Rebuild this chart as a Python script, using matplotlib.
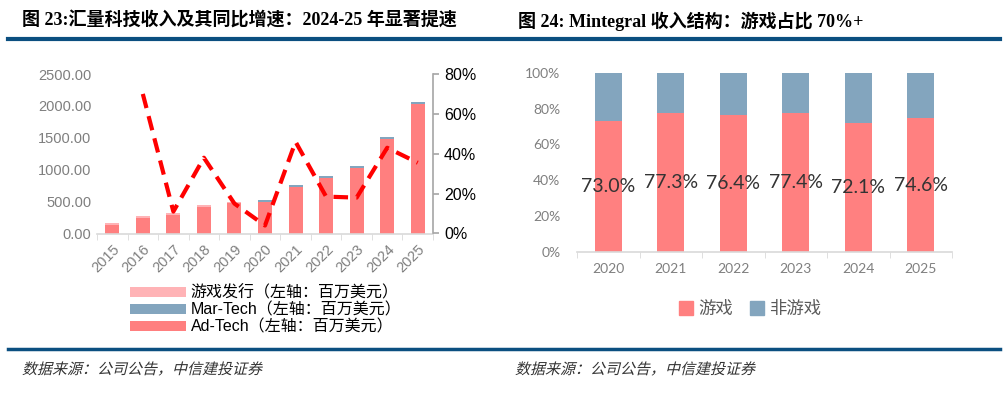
import matplotlib
matplotlib.use("Agg")
import matplotlib.pyplot as plt
from matplotlib.patches import Patch, PathPatch
from matplotlib.lines import Line2D
from matplotlib.textpath import TextPath
from matplotlib.font_manager import FontProperties
from matplotlib.transforms import Affine2D, IdentityTransform
import numpy as np

plt.rcParams['font.family'] = ['Liberation Sans', 'Noto Sans CJK SC']

# left chart data (百万美元 / 同比)
years = ['2015', '2016', '2017', '2018', '2019', '2020', '2021', '2022', '2023', '2024', '2025']
ad_tech = [130, 250, 292, 418, 480, 492, 727, 868, 1025, 1480, 2024]
mar_tech = [0, 0, 0, 0, 0, 30, 31, 32, 31, 37, 31]
game_pub = [30, 32, 22, 21, 12, 0, 0, 0, 0, 0, 0]
yoy = [None, 0.70, 0.11, 0.38, 0.15, 0.04, 0.46, 0.185, 0.18, 0.43, 0.355]

# right chart data
years_r = ['2020', '2021', '2022', '2023', '2024', '2025']
game_share = [73.0, 77.3, 76.4, 77.4, 72.1, 74.6]

c_ad = '#FF7F7F'
c_mar = '#83A5BE'
c_game = '#FFB3B6'
c_line = '#FF0000'
c_blue = '#0B4F80'
gray = '#7F7F7F'
title_font = ['Liberation Serif', 'Noto Sans CJK SC']
calib = ['Lato', 'Noto Sans CJK SC']

fig = plt.figure(figsize=(10.05, 3.96), dpi=100)
H = 396

# titles and rules
fig.text(22 / 1005, 1 - 21 / H, '图 23:汇量科技收入及其同比增速：2024-25 年显著提速',
         fontsize=13, fontweight='bold', family=title_font, va='center', ha='left')
fig.text(518 / 1005, 1 - 21 / H, '图 24: Mintegral 收入结构：游戏占比 70%+',
         fontsize=13, fontweight='bold', family=title_font, va='center', ha='left')
fig.add_artist(Line2D([8 / 1005, 1000 / 1005], [1 - 38.5 / H] * 2, color=c_blue, lw=3))
fig.add_artist(Line2D([8 / 1005, 1000 / 1005], [1 - 349 / H] * 2, color=c_blue, lw=2.5))

# italic source notes (slanted text path)
src = '数据来源：公司公告，中信建投证券'
src_path = TextPath((0, 0), src, size=15, prop=FontProperties(family=['Noto Sans CJK SC']))
for x0 in [22, 515]:
    tr = Affine2D().skew_deg(14, 0).translate(x0, H - 374)
    fig.add_artist(PathPatch(src_path, transform=tr + IdentityTransform(),
                             color='#333333', lw=0))

# left chart
ax = fig.add_axes([97 / 1005, 1 - 233.5 / H, 336 / 1005, 159.5 / H])
x = np.arange(len(years))
w = 0.46
ad = np.array(ad_tech)
mar = np.array(mar_tech)
gp = np.array(game_pub)
b1 = ax.bar(x, ad, w, color=c_ad, label='Ad-Tech（左轴：百万美元）')
b2 = ax.bar(x, mar, w, bottom=ad, color=c_mar, label='Mar-Tech（左轴：百万美元）')
b3 = ax.bar(x, gp, w, bottom=ad + mar, color=c_game, label='游戏发行（左轴：百万美元）')
ax.set_xlim(-0.5, len(years) - 0.5)
ax.set_ylim(0, 2500)
ax.set_yticks([0, 500, 1000, 1500, 2000, 2500])
ax.set_yticklabels([f'{v:.2f}' for v in [0, 500, 1000, 1500, 2000, 2500]])
ax.set_xticks(x)
ax.set_xticklabels(years, rotation=45, ha='right', rotation_mode='anchor')
ax.set_xticks(np.arange(-0.5, len(years)), minor=True)
ax.tick_params(axis='x', which='major', length=0, colors=gray, labelsize=10.5, pad=6)
ax.tick_params(axis='x', which='minor', length=4, color='#D9D9D9', direction='out')
ax.tick_params(axis='y', length=0, colors=gray, labelsize=10.5, pad=4)
for s in ['top', 'right', 'left']:
    ax.spines[s].set_visible(False)
ax.spines['bottom'].set_color('#D9D9D9')
ax.spines['bottom'].set_linewidth(1.2)

ax2 = ax.twinx()
yx = [i for i, v in enumerate(yoy) if v is not None]
yv = [v for v in yoy if v is not None]
ax2.plot(yx, yv, color=c_line, lw=3, ls=(0, (3.5, 2)), dash_capstyle='butt')
ax2.set_ylim(0, 0.8)
ax2.set_yticks([0, 0.2, 0.4, 0.6, 0.8])
ax2.set_yticklabels(['0%', '20%', '40%', '60%', '80%'])
ax2.tick_params(axis='y', colors='black', labelsize=11.5, length=4, width=1.2, pad=4)
ax2.tick_params(axis='y', color='#A6A6A6')
for s in ['top', 'left', 'bottom']:
    ax2.spines[s].set_visible(False)
ax2.spines['right'].set_color('#A6A6A6')
ax2.spines['right'].set_linewidth(1.2)

fig.legend(handles=[b3, b2, b1], loc='upper left', bbox_to_anchor=(130 / 1005, 1 - 285 / H),
           frameon=False, fontsize=11.5, handlelength=3.5, handleheight=0.6,
           labelspacing=0.12, handletextpad=0.3, borderaxespad=0, borderpad=0)

# right chart
axr = fig.add_axes([577 / 1005, 1 - 252 / H, 375 / 1005, 179.3 / H])
xr = np.arange(len(years_r))
gs = np.array(game_share)
wr = 0.43
axr.bar(xr, gs, wr, color='#FF8080', label='游戏')
axr.bar(xr, 100 - gs, wr, bottom=gs, color=c_mar, label='非游戏')
for i, v in enumerate(gs):
    axr.text(i, v / 2, f'{v:.1f}%', ha='center', va='center', fontsize=14,
             family=calib, color='#333333')
axr.set_xlim(-0.5, len(years_r) - 0.5)
axr.set_ylim(0, 100)
axr.set_yticks([0, 20, 40, 60, 80, 100])
axr.set_yticklabels([f'{v}%' for v in [0, 20, 40, 60, 80, 100]], family=calib)
axr.set_xticks(xr)
axr.set_xticklabels(years_r, family=calib)
axr.set_xticks(np.arange(-0.5, len(years_r)), minor=True)
axr.tick_params(axis='x', which='major', length=0, colors=gray, labelsize=10, pad=8)
axr.tick_params(axis='x', which='minor', length=4, color='#D9D9D9', direction='out')
axr.tick_params(axis='y', length=0, colors=gray, labelsize=10, pad=12)
for s in ['top', 'right', 'left']:
    axr.spines[s].set_visible(False)
axr.spines['bottom'].set_color('#D9D9D9')
axr.spines['bottom'].set_linewidth(1.2)
axr.legend(handles=[Patch(color='#FF8080', label='游戏'), Patch(color=c_mar, label='非游戏')],
           loc='center', bbox_to_anchor=(750 / 1005, 1 - 309 / H),
           bbox_transform=fig.transFigure, ncol=2, frameon=False, fontsize=12.5,
           handlelength=0.8, handleheight=0.8, handletextpad=0.3, columnspacing=1.0,
           labelcolor='#595959')

fig.savefig('out.png', dpi=100)
